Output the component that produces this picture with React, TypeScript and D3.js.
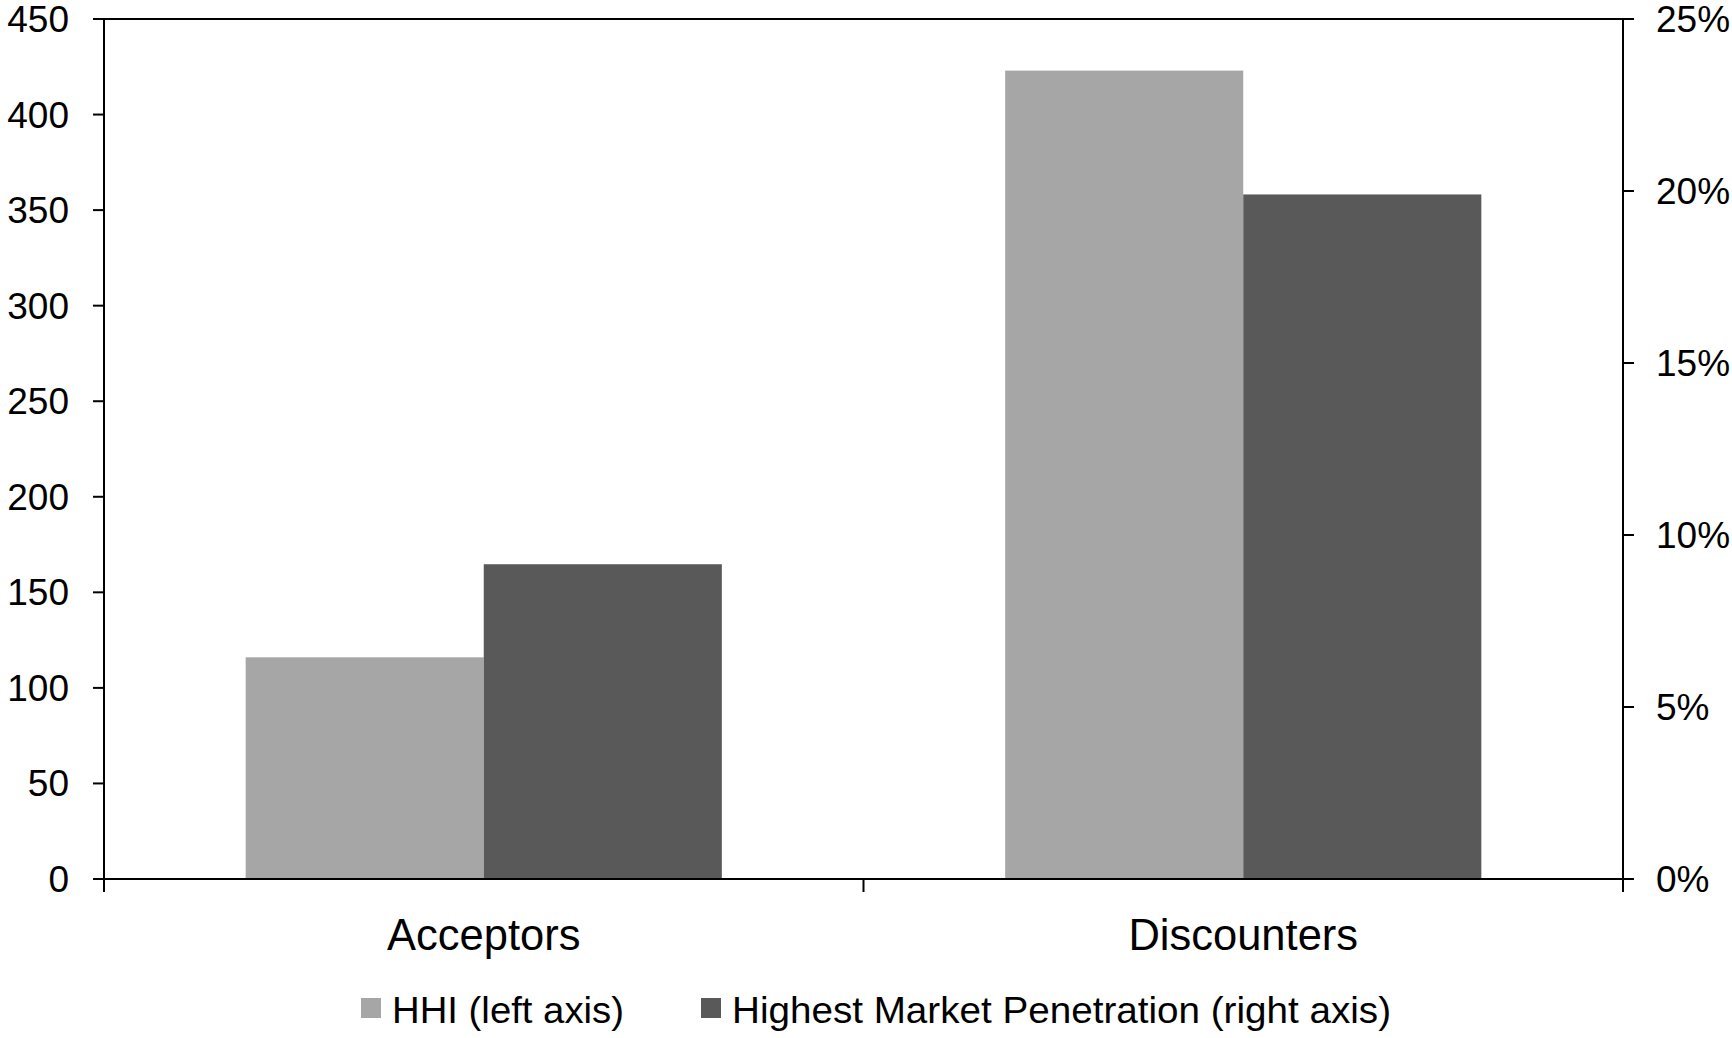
import React from "react";
import * as d3 from "d3";

const categories = ["Acceptors", "Discounters"];
const seriesNames = ["HHI (left axis)", "Highest Market Penetration (right axis)"];
const hhiValues = [116, 423];
const penetrationValues = [0.0915, 0.199];
const leftTicks = [0, 50, 100, 150, 200, 250, 300, 350, 400, 450];
const rightTicks = [0, 0.05, 0.1, 0.15, 0.2, 0.25];
const colors = ["#A6A6A6", "#595959"];

const W = 1732;
const H = 1038;
const M = { left: 104, right: 109, top: 19, bottom: 159 };

export default function App() {
  const x0 = d3
    .scaleBand<string>()
    .domain(categories)
    .range([M.left, W - M.right])
    .paddingInner(0)
    .paddingOuter(0);
  const x1 = d3
    .scaleBand<number>()
    .domain([0, 1])
    .range([0, x0.bandwidth()])
    .paddingInner(0)
    .paddingOuter(0.595);
  const yL = d3.scaleLinear().domain([0, 450]).range([H - M.bottom, M.top]);
  const yR = d3.scaleLinear().domain([0, 0.25]).range([H - M.bottom, M.top]);
  const fmtPct = d3.format(".0%");
  const font = "'Liberation Sans', Arial, sans-serif";
  const x0px = M.left;
  const x1px = W - M.right;
  const yBase = H - M.bottom;
  const tick = 11;

  const bars: { x: number; y: number; w: number; h: number; c: string }[] = [];
  categories.forEach((cat, i) => {
    const bx = x0(cat)!;
    bars.push({
      x: bx + x1(0)!,
      y: yL(hhiValues[i]),
      w: x1.bandwidth(),
      h: yBase - yL(hhiValues[i]),
      c: colors[0],
    });
    bars.push({
      x: bx + x1(1)!,
      y: yR(penetrationValues[i]),
      w: x1.bandwidth(),
      h: yBase - yR(penetrationValues[i]),
      c: colors[1],
    });
  });

  const legendItems = [
    { label: seriesNames[0], color: colors[0], x: 361, len: 232 },
    { label: seriesNames[1], color: colors[1], x: 701, len: 659 },
  ];

  return (
    <div style={{ position: "absolute", left: 0, top: 0 }}>
      <svg width={W} height={H} style={{ display: "block", background: "#fff" }} fontFamily={font}>
        <rect x={0} y={0} width={W} height={H} fill="#fff" />
        {bars.map((b, i) => (
          <rect key={i} x={b.x} y={b.y} width={b.w} height={b.h} fill={b.c} />
        ))}
        <line x1={x0px} x2={x0px} y1={M.top} y2={yBase} stroke="#000" strokeWidth={2} />
        <line x1={x1px} x2={x1px} y1={M.top} y2={yBase} stroke="#000" strokeWidth={2} />
        <line x1={x0px - tick} x2={x1px + tick} y1={M.top} y2={M.top} stroke="#000" strokeWidth={2} />
        <line x1={x0px - tick} x2={x1px + tick} y1={yBase} y2={yBase} stroke="#000" strokeWidth={2} />
        {leftTicks.map((t) => (
          <g key={"l" + t}>
            <line x1={x0px - tick} x2={x0px} y1={yL(t)} y2={yL(t)} stroke="#000" strokeWidth={2} />
            <text x={69} y={yL(t) + 13} textAnchor="end" fontSize={37} fill="#000">
              {t}
            </text>
          </g>
        ))}
        {rightTicks.map((t) => (
          <g key={"r" + t}>
            <line x1={x1px} x2={x1px + tick} y1={yR(t)} y2={yR(t)} stroke="#000" strokeWidth={2} />
            <text x={1656} y={yR(t) + 13} textAnchor="start" fontSize={37} fill="#000">
              {fmtPct(t)}
            </text>
          </g>
        ))}
        {[x0px, x0(categories[1])!, x1px].map((xv, i) => (
          <line key={"b" + i} x1={xv} x2={xv} y1={yBase} y2={yBase + 13} stroke="#000" strokeWidth={2} />
        ))}
        {categories.map((c) => (
          <text
            key={c}
            x={x0(c)! + x0.bandwidth() / 2}
            y={950}
            textAnchor="middle"
            fontSize={43.5}
            fill="#000"
          >
            {c}
          </text>
        ))}
        {legendItems.map((it) => (
          <g key={it.label}>
            <rect x={it.x} y={998} width={20} height={20} fill={it.color} />
            <text
              x={it.x + 31}
              y={1023}
              fontSize={37}
              fill="#000"
              textLength={it.len}
              lengthAdjust="spacingAndGlyphs"
            >
              {it.label}
            </text>
          </g>
        ))}
      </svg>
    </div>
  );
}
